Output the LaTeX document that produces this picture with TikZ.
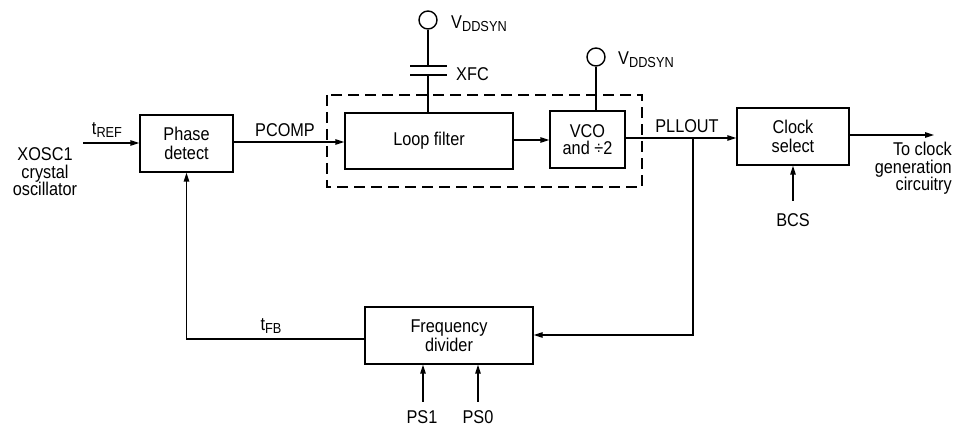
\documentclass[tikz,border=0pt]{standalone}
\usepackage{fontspec}
\setmainfont[FakeStretch=0.88]{Liberation Sans}
\usetikzlibrary{arrows.meta}
\newcommand{\lowsub}[1]{\raisebox{-0.32ex}{\fontsize{14.5pt}{14.5pt}\selectfont #1}}
\begin{document}
\begin{tikzpicture}[x=1pt,y=-1pt,
  every node/.style={font=\fontsize{18.5pt}{19pt}\selectfont, inner sep=0pt},
  blk/.style={draw, line width=1.4pt, align=center},
  wire/.style={line width=1.4pt},
  arr/.style={line width=1.4pt, -{Triangle[length=9pt,width=5.5pt]}},
  term/.style={circle, draw, line width=1.4pt, minimum size=18pt},
  lbl/.style={align=center}]
\useasboundingbox (0,0) rectangle (953,427);

% blocks
\node[blk, minimum width=93pt, minimum height=57pt] (phase) at (186.5,143.5) {Phase\\detect};
\node[blk, minimum width=168pt, minimum height=56pt] (lf) at (429,141) {Loop filter};
\node[blk, minimum width=75pt, minimum height=57pt, font=\fontsize{18.5pt}{17.5pt}\selectfont] (vco) at (587.5,139.5) {VCO\\and \char"00F7 2};
\node[blk, minimum width=112pt, minimum height=57pt] (cs) at (793,136.5) {Clock\\select};
\node[blk, minimum width=168pt, minimum height=57pt] (fd) at (449,335.5) {Frequency\\divider};

% dashed enclosure
\draw[line width=1.4pt, dash pattern=on 11pt off 6pt] (327,95) rectangle (642,187);

% left input
\node[lbl, font=\fontsize{18.5pt}{17.5pt}\selectfont] (xosc) at (45,172) {XOSC1\\crystal\\oscillator};
\coordinate (trefin) at (83,143);
\draw[arr] (trefin) -- (phase.west |- trefin);
\node (tref) at (107,130) {t\lowsub{REF}};

% PCOMP
\draw[arr] (phase.east |- 0,142) -- (lf.west |- 0,142);
\node (pcomp) at (285,130) {PCOMP};

% loop filter to VCO
\draw[arr] (lf.east |- 0,140) -- (vco.west |- 0,140);

% capacitor and supply 1
\node[term] (vdd1) at (428,20) {};
\node[anchor=west] (vdd1l) at (451,24) {V\lowsub{DDSYN}};
\coordinate (capt) at (428,66);
\coordinate (capb) at (428,75);
\draw[wire] (vdd1) -- (capt);
\draw[wire] ([xshift=-18pt]capt) -- ([xshift=19pt]capt);
\draw[wire] ([xshift=-18pt]capb) -- ([xshift=19pt]capb);
\draw[wire] (capb) -- (capb |- lf.north);
\node[anchor=west] (xfc) at (456,74) {XFC};

% supply 2
\node[term] (vdd2) at (596,57) {};
\node[anchor=west] (vdd2l) at (618,60) {V\lowsub{DDSYN}};
\draw[wire] (vdd2) -- (vdd2 |- vco.north);

% PLLOUT
\coordinate (jn) at (693,138);
\draw[arr] (vco.east |- jn) -- (cs.west |- jn);
\node (pllout) at (687,126) {PLLOUT};
\draw[arr] (jn) -- (693,335) -- (fd.east |- 0,335);

% output
\coordinate (outend) at (934,135);
\draw[arr] (cs.east |- outend) -- (outend);
\node[anchor=north east, align=right, font=\fontsize{18.5pt}{17.5pt}\selectfont] (outl) at (952,142) {To clock\\generation\\circuitry};

% BCS
\node (bcs) at (793,220) {BCS};
\coordinate (bcsin) at (793,201);
\draw[arr] (bcsin) -- (cs.south);

% feedback
\draw[arr] (fd.west |- 0,339) -| (phase.south);
\node (tfb) at (271,326) {t\lowsub{FB}};

% PS inputs
\node (ps1) at (422,417) {PS1};
\node (ps0) at (478,417) {PS0};
\coordinate (ps1in) at (423,402);
\coordinate (ps0in) at (478,402);
\draw[arr] (ps1in) -- (ps1in |- fd.south);
\draw[arr] (ps0in) -- (ps0in |- fd.south);
\end{tikzpicture}
\end{document}
